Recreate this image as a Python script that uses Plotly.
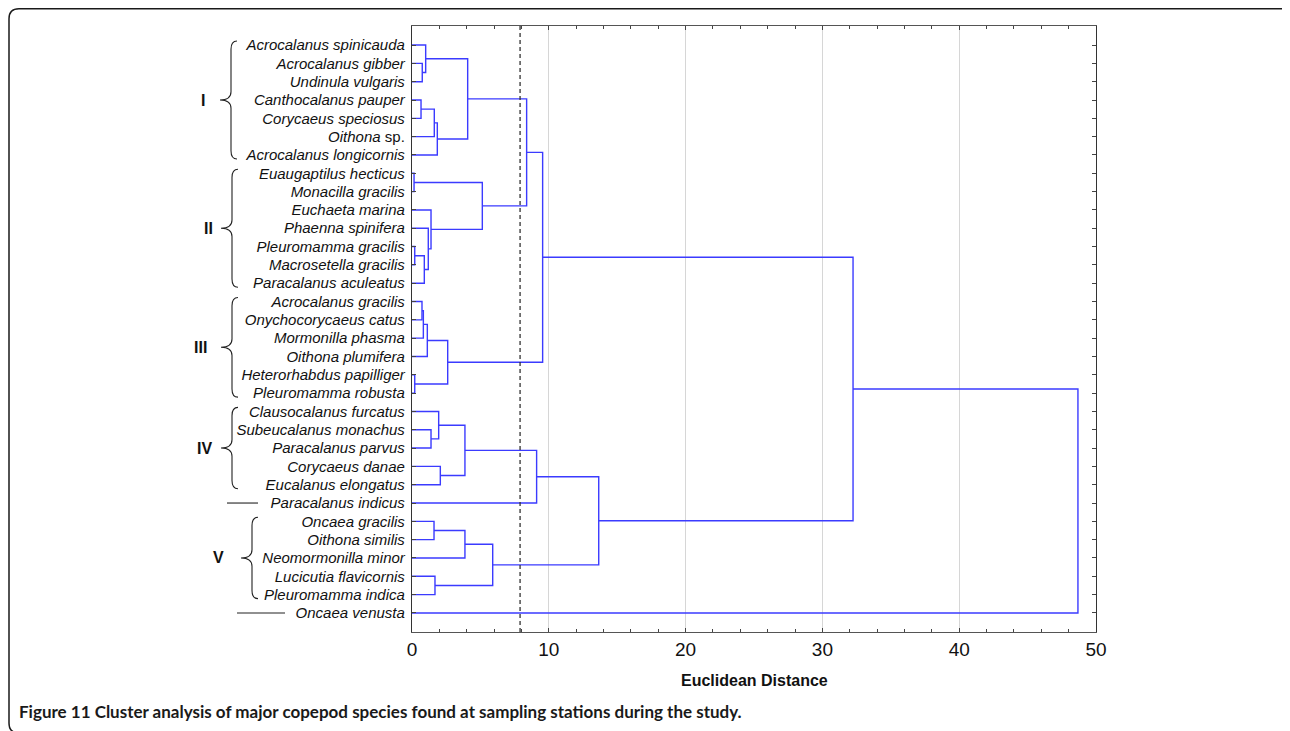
import plotly.graph_objects as go

# ---------------- data ----------------
species = [
    "Acrocalanus spinicauda", "Acrocalanus gibber", "Undinula vulgaris",
    "Canthocalanus pauper", "Corycaeus speciosus", "Oithona sp.",
    "Acrocalanus longicornis", "Euaugaptilus hecticus", "Monacilla gracilis",
    "Euchaeta marina", "Phaenna spinifera", "Pleuromamma gracilis",
    "Macrosetella gracilis", "Paracalanus aculeatus", "Acrocalanus gracilis",
    "Onychocorycaeus catus", "Mormonilla phasma", "Oithona plumifera",
    "Heterorhabdus papilliger", "Pleuromamma robusta", "Clausocalanus furcatus",
    "Subeucalanus monachus", "Paracalanus parvus", "Corycaeus danae",
    "Eucalanus elongatus", "Paracalanus indicus", "Oncaea gracilis",
    "Oithona similis", "Neomormonilla minor", "Lucicutia flavicornis",
    "Pleuromamma indica", "Oncaea venusta",
]
# linkage: ids 0..31 are species, id 32+k is the cluster made by merge k
merge_a = [1, 0, 3, 34, 35, 33, 7, 11, 39, 10, 9, 38, 37, 14, 45, 46, 18, 47, 44,
           21, 20, 23, 52, 54, 26, 56, 29, 57, 55, 50, 61]
merge_b = [2, 32, 4, 5, 6, 36, 8, 12, 13, 40, 41, 42, 43, 15, 16, 17, 19, 48, 49,
           22, 51, 24, 53, 25, 27, 28, 30, 58, 59, 60, 31]
merge_h = [0.75, 1.0, 0.66, 1.63, 1.85, 4.07, 0.15, 0.2, 0.9, 1.19, 1.39, 5.14, 8.38,
           0.73, 0.83, 1.12, 0.2, 2.61, 9.55, 1.39, 1.95, 2.07, 3.87, 9.11,
           1.61, 3.87, 1.68, 5.9, 13.65, 32.24, 48.68]
cut_distance = 7.9
x_ticks = [0, 10, 20, 30, 40, 50]

group_names = ["I", "II", "III", "IV", "V"]
group_first = [0, 7, 14, 20, 26]
group_last = [6, 13, 19, 24, 30]
single_rows = [25, 31]

# ---------------- styles ----------------
OFF = 8  # page body margin of the html page
PAGE_W, PAGE_H = 1290, 731
W, H = PAGE_W - OFF, PAGE_H - OFF
# plot area in page pixels: x 412..1096, y 26..632
ML, MT = 412 - OFF, 26 - OFF
MR, MB = W - (1096 - OFF), H - (632 - OFF)
PW, PH = W - ML - MR, H - MT - MB
LINE_BLUE = "#3b3bff"
FONT = "Liberation Sans, Arial, sans-serif"
brace_right_px = [237, 238, 238, 238, 258]
numeral_right_px = [207, 215, 209, 214, 226]
single_dash_px = [(227, 258), (237, 285)]


def X(px):  # page pixel -> paper x
    return (px - OFF - ML) / PW


def Y(py):  # page pixel -> paper y
    return (H - MB - (py - OFF)) / PH


# ---------------- dendrogram geometry ----------------
n = len(species)
node_y = {i: float(i) for i in range(n)}
node_h = {i: 0.0 for i in range(n)}
xs, ys = [], []
for k, (a, b, h) in enumerate(zip(merge_a, merge_b, merge_h)):
    ya, yb = node_y[a], node_y[b]
    xs += [node_h[a], h, h, node_h[b], None]
    ys += [ya, ya, yb, yb, None]
    node_y[n + k] = (ya + yb) / 2
    node_h[n + k] = h

fig = go.Figure()
fig.add_trace(go.Scatter(x=xs, y=ys, mode="lines",
                         line=dict(color=LINE_BLUE, width=1.4),
                         hoverinfo="skip", showlegend=False))


def fmt(name):
    if name.endswith(" sp."):
        return "<i>%s</i> sp." % name[:-4]
    return "<i>%s</i>" % name


shapes = []
# cut line
shapes.append(dict(type="line", xref="x", yref="paper", x0=cut_distance, x1=cut_distance,
                   y0=0, y1=1, line=dict(color="#333333", width=1.3, dash="4px,3px"),
                   layer="above"))

annotations = []
# braces
for name, f, l, xr, nr in zip(group_names, group_first, group_last,
                              brace_right_px, numeral_right_px):
    top, bot = f - 0.22, l + 0.22
    mid = (f + l) / 2
    r = 0.45
    xe = X(xr)
    xsn = X(xr - 6)
    xt = X(xr - 17)
    path = (f"M {xe},{top} Q {xsn},{top} {xsn},{top + r} L {xsn},{mid - r} "
            f"Q {xsn},{mid} {xt},{mid} Q {xsn},{mid} {xsn},{mid + r} "
            f"L {xsn},{bot - r} Q {xsn},{bot} {xe},{bot}")
    shapes.append(dict(type="path", xref="paper", yref="y", path=path,
                       line=dict(color="#222222", width=1.1)))
    annotations.append(dict(x=X(nr), y=mid, xref="paper", yref="y",
                            text="<b>%s</b>" % name, showarrow=False,
                            xanchor="right", yanchor="middle",
                            font=dict(family=FONT, size=16, color="#111111")))
for row, (x0, x1) in zip(single_rows, single_dash_px):
    shapes.append(dict(type="line", xref="paper", yref="y", x0=X(x0), x1=X(x1),
                       y0=row, y1=row, line=dict(color="#222222", width=1.1)))

# outer rounded frame (page pixels)
fx0, fx1, fy0, fy1, rad = 9, 1291, 8.8, 733, 10
frame = (f"M {X(fx0 + rad)},{Y(fy0)} L {X(fx1 - rad)},{Y(fy0)} "
         f"Q {X(fx1)},{Y(fy0)} {X(fx1)},{Y(fy0 + rad)} "
         f"L {X(fx1)},{Y(fy1 - rad)} Q {X(fx1)},{Y(fy1)} {X(fx1 - rad)},{Y(fy1)} "
         f"L {X(fx0 + rad)},{Y(fy1)} Q {X(fx0)},{Y(fy1)} {X(fx0)},{Y(fy1 - rad)} "
         f"L {X(fx0)},{Y(fy0 + rad)} Q {X(fx0)},{Y(fy0)} {X(fx0 + rad)},{Y(fy0)} Z")
shapes.append(dict(type="path", xref="paper", yref="paper", path=frame,
                   line=dict(color="#1a1a1a", width=1.5)))

# axis title and caption
annotations.append(dict(x=0.5, y=Y(680), xref="paper", yref="paper",
                        xanchor="center", yanchor="middle",
                        text="<b>Euclidean Distance</b>", showarrow=False,
                        font=dict(family=FONT, size=16, color="#111111")))
annotations.append(dict(x=X(17), y=Y(711), xref="paper", yref="paper",
                        xanchor="left", yanchor="middle",
                        text="<b>Figure 11 Cluster analysis of major copepod species found at "
                             "sampling stations during the study.</b>",
                        showarrow=False,
                        font=dict(family="Lato, sans-serif", size=17, color="#1a1a1a")))

fig.update_layout(
    width=W, height=H,
    margin=dict(l=ML, r=MR, t=MT, b=MB, pad=0),
    paper_bgcolor="white", plot_bgcolor="white",
    shapes=shapes, annotations=annotations,
    xaxis=dict(range=[0, 50], tickvals=x_ticks, ticktext=[str(v) for v in x_ticks],
               ticks="inside", ticklen=4, tickcolor="#444444",
               minor=dict(dtick=2, ticks="inside", ticklen=3, tickcolor="#444444",
                          showgrid=False),
               showline=True, linecolor="#555555", linewidth=1.3, mirror="ticks",
               showgrid=True, gridcolor="#d6d6d6", gridwidth=1, zeroline=False,
               tickfont=dict(family=FONT, size=19, color="#111111")),
    yaxis=dict(range=[32.04, -1.04], tickvals=list(range(n)),
               ticktext=[fmt(s) for s in species],
               ticks="inside", ticklen=4, tickcolor="#444444",
               showline=True, linecolor="#333333", linewidth=1.3, mirror="ticks",
               showgrid=False, zeroline=False, ticklabelstandoff=3,
               tickfont=dict(family=FONT, size=15, color="#111111")),
)

fig.write_html("out.html")
